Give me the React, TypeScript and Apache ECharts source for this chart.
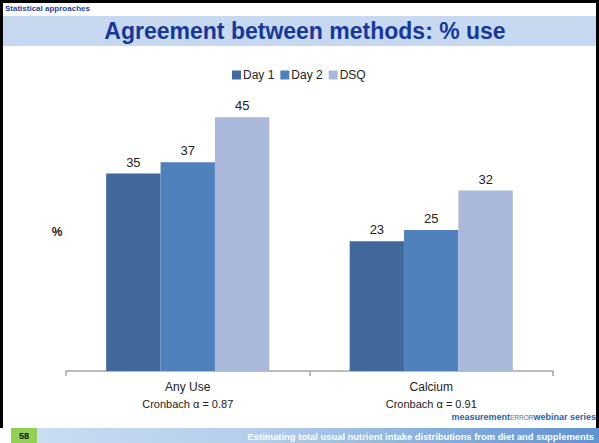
import React, { useEffect, useRef } from "react";
import * as echarts from "echarts";

const categories = ["Any Use", "Calcium"];
const cronbach = ["0.87", "0.91"];
const seriesNames = ["Day 1", "Day 2", "DSQ"];
const day1 = [35, 23];
const day2 = [37, 25];
const dsq = [45, 32];
const seriesColors = ["#41699b", "#4f81bd", "#aab9d9"];

const FONT = "'Liberation Sans', Arial, sans-serif";

export default function App() {
  const ref = useRef<HTMLDivElement>(null);
  useEffect(() => {
    if (!ref.current) return;
    const chart = echarts.init(ref.current, null, { renderer: "svg" });
    const values = [day1, day2, dsq];
    chart.setOption({
      animation: false,
      backgroundColor: "#ffffff",
      textStyle: { fontFamily: FONT },
      legend: {
        data: seriesNames,
        top: 64,
        left: 227,
        itemWidth: 9,
        itemHeight: 9,
        itemGap: 6,
        icon: "rect",
        textStyle: { fontSize: 12, color: "#222", fontFamily: FONT, padding: [0, 0, 0, -3] },
      },
      grid: { left: 66, right: 46, top: 89, bottom: 72, containLabel: false },
      xAxis: {
        type: "category",
        data: categories,
        axisLine: { lineStyle: { color: "#a6a6a6", width: 1.5 } },
        axisTick: { show: true, length: 5, lineStyle: { color: "#a6a6a6", width: 1.5 } },
        axisLabel: {
          margin: 7,
          interval: 0,
          formatter: (v: string, i: number) => `{a|${v}}\n{b|Cronbach α = ${cronbach[i]}}`,
          rich: {
            a: { fontSize: 12, color: "#222", fontFamily: FONT, lineHeight: 17 },
            b: { fontSize: 11, color: "#222", fontFamily: FONT, lineHeight: 17 },
          },
        },
      },
      yAxis: {
        type: "value",
        min: 0,
        max: 50,
        show: false,
        splitLine: { show: false },
      },
      series: seriesNames.map((name, i) => ({
        name,
        type: "bar",
        data: values[i],
        barGap: "0%",
        barCategoryGap: "33%",
        itemStyle: { color: seriesColors[i] },
        label: {
          show: true,
          position: "top",
          distance: 5,
          fontSize: 13,
          color: "#222",
          fontFamily: FONT,
        },
      })),
      graphic: [
        { type: "rect", shape: { x: 0, y: 0, width: 599, height: 3 }, style: { fill: "#000" } },
        { type: "rect", shape: { x: 0, y: 0, width: 3, height: 428 }, style: { fill: "#000" } },
        { type: "rect", shape: { x: 596, y: 0, width: 3, height: 428 }, style: { fill: "#000" } },
        { type: "rect", shape: { x: 3, y: 16, width: 593, height: 30 }, style: { fill: "#c6d9f1" } },
        {
          type: "text",
          x: 5,
          y: 4,
          style: { text: "Statistical approaches", fontFamily: FONT, fontWeight: "bold", fontSize: 8, fill: "#1f3fa0" },
        },
        {
          type: "text",
          x: 305,
          y: 31,
          style: {
            text: "Agreement between methods: % use",
            fontFamily: FONT,
            fontWeight: "bold",
            fontSize: 23,
            fill: "#17389a",
            align: "center",
            verticalAlign: "middle",
          },
        },
        {
          type: "text",
          x: 57,
          y: 232,
          style: { text: "%", fontFamily: FONT, fontWeight: "bold", fontSize: 12, fill: "#222", align: "center", verticalAlign: "middle" },
        },
        {
          type: "text",
          x: 596,
          y: 417,
          style: {
            text: "{m|measurement}{e|ERROR}{m|webinar series}",
            align: "right",
            verticalAlign: "middle",
            rich: {
              m: { fontFamily: FONT, fontWeight: "bold", fontSize: 9, fill: "#2d5fa6" },
              e: { fontFamily: FONT, fontSize: 6.5, fill: "#5a6f8f" },
            },
          },
        },
        {
          type: "rect",
          shape: { x: 37, y: 428, width: 562, height: 15 },
          style: {
            fill: new echarts.graphic.LinearGradient(0, 0, 1, 0, [
              { offset: 0, color: "#c9dcf2" },
              { offset: 0.4, color: "#b3cdeb" },
              { offset: 1, color: "#5f92d2" },
            ]),
          },
        },
        { type: "rect", shape: { x: 11, y: 428, width: 26, height: 15 }, style: { fill: "#92d050" } },
        {
          type: "text",
          x: 24,
          y: 436,
          style: { text: "58", fontFamily: FONT, fontWeight: "bold", fontSize: 9, fill: "#111", align: "center", verticalAlign: "middle" },
        },
        {
          type: "text",
          x: 594,
          y: 436,
          style: {
            text: "Estimating total usual nutrient intake distributions from diet and supplements",
            fontFamily: FONT,
            fontWeight: "bold",
            fontSize: 9.4,
            fill: "#ffffff",
            align: "right",
            verticalAlign: "middle",
          },
        },
      ],
    });
    return () => chart.dispose();
  }, []);
  return (
    <div
      ref={ref}
      style={{ position: "fixed", left: 0, top: 0, width: 599, height: 443, background: "#fff" }}
    />
  );
}
